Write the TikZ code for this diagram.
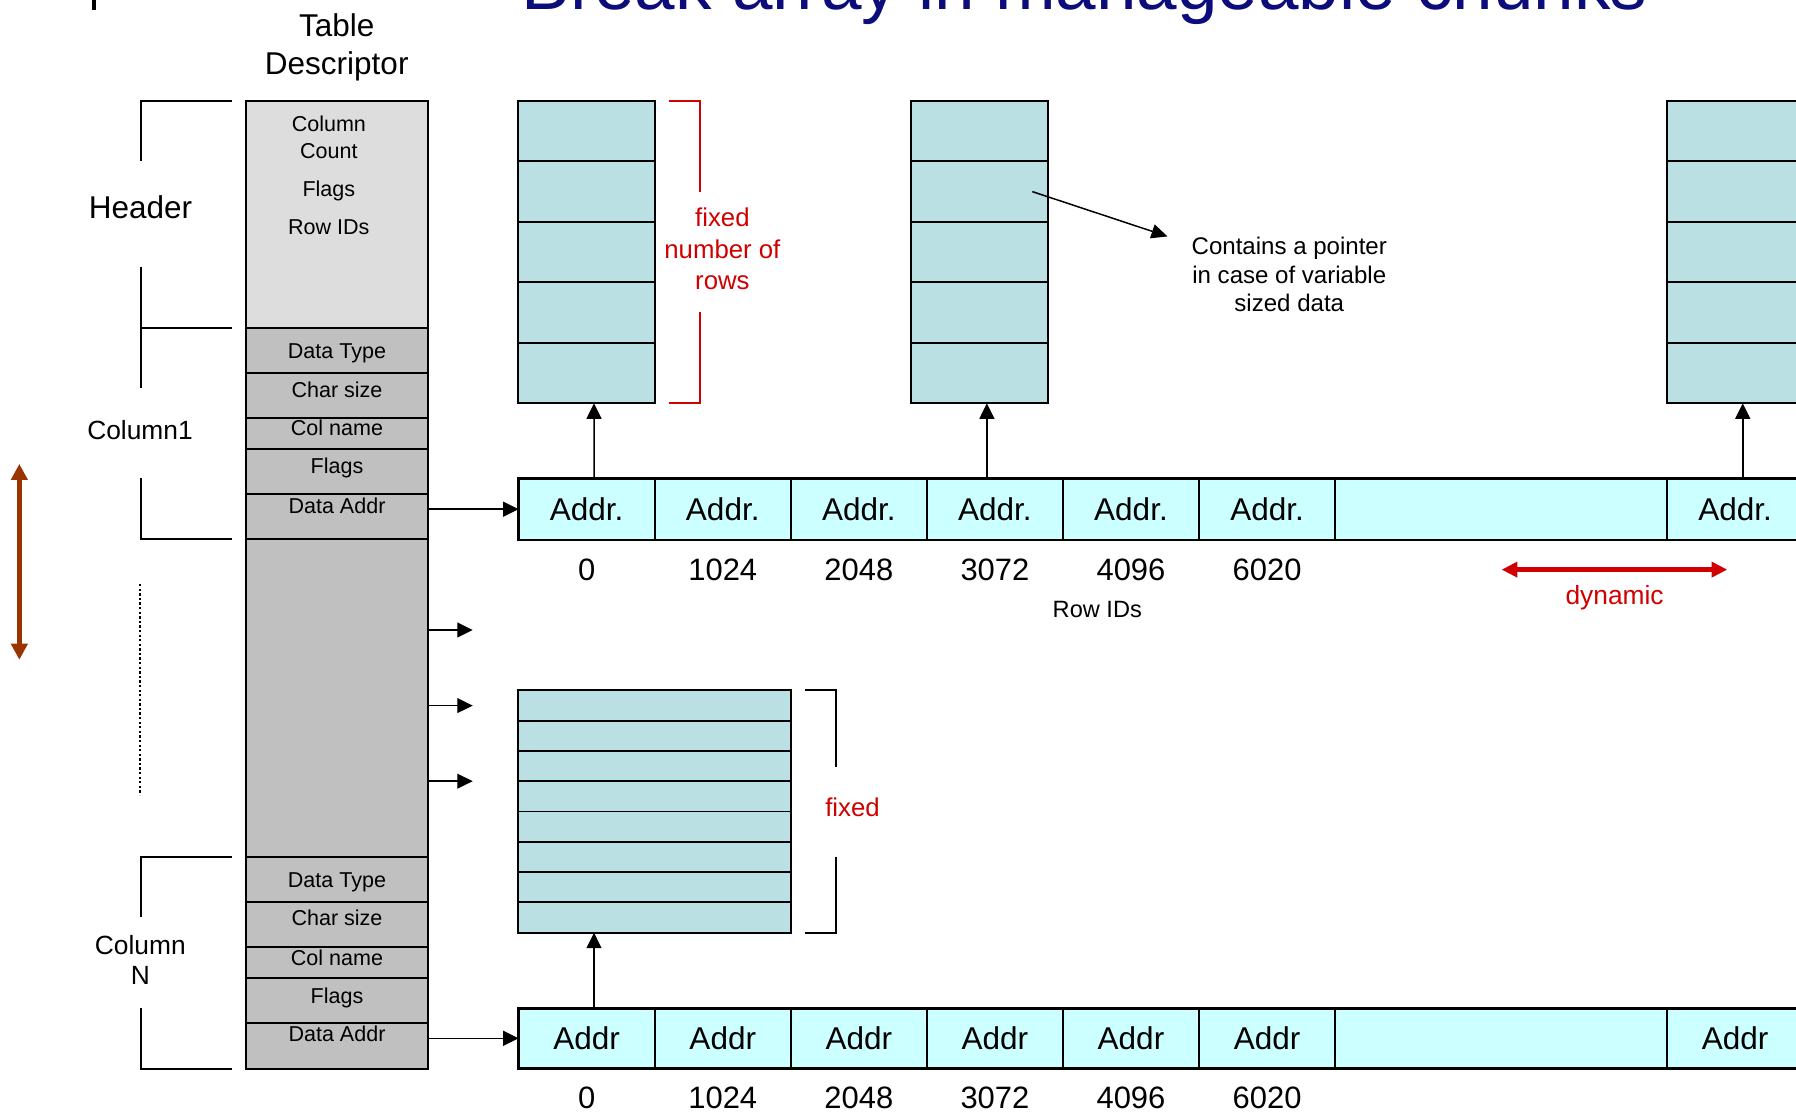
\documentclass[tikz,border=0pt]{standalone}
\usepackage{fontspec}
\setmainfont{Liberation Sans}
\usetikzlibrary{arrows.meta}

\definecolor{titleblue}{RGB}{12,12,122}
\definecolor{rowfill}{RGB}{187,224,227}
\definecolor{addrfill}{RGB}{204,255,255}
\definecolor{hdrfill}{RGB}{221,221,221}
\definecolor{colfill}{RGB}{192,192,192}
\definecolor{notered}{RGB}{208,0,0}
\definecolor{rustbrown}{RGB}{153,51,0}

\newcommand\fsz[2]{\fontsize{#1}{#2}\selectfont}

\begin{document}
\begin{tikzpicture}[x=1pt,y=-1pt,
  cellbox/.style={draw=black, line width=1.6pt, inner sep=0pt, outer sep=0pt},
  tdcell/.style={cellbox, minimum width=158.9pt},
  addr/.style={cellbox, fill=addrfill, font=\fsz{27.5}{33}},
  slot/.style={cellbox, fill=rowfill, minimum width=119.3pt, minimum height=52.84pt},
  thinslot/.style={cellbox, fill=rowfill, minimum width=238.3pt, minimum height=26.45pt},
  lbl/.style={inner sep=0pt, anchor=base},
  cellfont/.style={font=\fsz{18.8}{23.2}},
  link/.style={line width=1.3pt, -{Triangle[length=13.5pt,width=13pt]}},
  bracketline/.style={line width=1.6pt},
]
\useasboundingbox (0,0) rectangle (1568,972);
\clip (0,0) rectangle (1568,972);

% heading
\node[lbl, anchor=base west, text=titleblue, font=\fsz{63.6}{70}] (title) at (455.2,8.5) {Break array in manageable chunks};
\draw[line width=4pt] (82,-2) -- (82,8.5);

% ---------- table descriptor ----------
\node[inner sep=0pt, align=center, font=\fsz{27.5}{32.6}] (tdtitle) at (294,41.2) {Table\\Descriptor};

\node[tdcell, fill=hdrfill, minimum height=198.2pt] (hdr) at (293.95,187) {};
\node[tdcell, fill=colfill, minimum height=39.3pt] (dt1) at (293.95,305.75) {};
\node[tdcell, fill=colfill, minimum height=39.8pt] (cs1) at (293.95,345.3) {};
\node[tdcell, fill=colfill, minimum height=26.5pt] (cn1) at (293.95,378.45) {};
\node[tdcell, fill=colfill, minimum height=39.6pt] (fl1) at (293.95,411.5) {};
\node[tdcell, fill=colfill, minimum height=39.5pt] (da1) at (293.95,451.05) {};
\node[tdcell, fill=colfill, minimum height=277.2pt] (gap) at (293.95,609.4) {};
\node[tdcell, fill=colfill, minimum height=39.5pt] (dt2) at (293.95,767.75) {};
\node[tdcell, fill=colfill, minimum height=39.5pt] (cs2) at (293.95,807.25) {};
\node[tdcell, fill=colfill, minimum height=26.6pt] (cn2) at (293.95,840.3) {};
\node[tdcell, fill=colfill, minimum height=39.6pt] (fl2) at (293.95,873.4) {};
\node[tdcell, fill=colfill, minimum height=39.8pt] (da2) at (293.95,913.1) {};

% header entries
\node[inner sep=0pt, align=center, cellfont] (t-cc) at (287.1,119.75) {Column\\Count};
\node[lbl, cellfont] (t-hf) at (287.1,171.7) {Flags};
\node[lbl, cellfont] (t-ri) at (287.1,204.6) {Row IDs};

% column entries
\node[lbl, cellfont] (t-dt1) at (294.2,312.8) {Data Type};
\node[lbl, cellfont] (t-cs1) at (294.2,346.9) {Char size};
\node[lbl, cellfont] (t-cn1) at (294.2,379.8) {Col name};
\node[lbl, cellfont] (t-fl1) at (294.2,413.8) {Flags};
\node[lbl, cellfont] (t-da1) at (294.2,448.2) {Data Addr};
\node[lbl, cellfont] (t-dt2) at (294.2,774.7) {Data Type};
\node[lbl, cellfont] (t-cs2) at (294.2,808.4) {Char size};
\node[lbl, cellfont] (t-cn2) at (294.2,842.8) {Col name};
\node[lbl, cellfont] (t-fl2) at (294.2,876) {Flags};
\node[lbl, cellfont] (t-da2) at (294.2,909.7) {Data Addr};

% side labels and brackets
\node[lbl, font=\fsz{27.5}{33}] (lhdr) at (122.7,190.6) {Header};
\node[lbl, font=\fsz{23}{27}] (lcol1) at (122.2,383.6) {Column1};
\node[inner sep=0pt, align=center, font=\fsz{23}{26.8}] (lcoln) at (122.5,838.2) {Column\\N};

\draw[bracketline] (202.3,87.9) -- (122.8,87.9) -- (122.8,140.6);
\draw[bracketline] (122.8,232.8) -- (122.8,338.5);
\draw[bracketline] (122.8,286.1) -- (202.3,286.1);
\draw[bracketline] (122.8,417.3) -- (122.8,470.8) -- (202.3,470.8);
\draw[line width=1.8pt, dash pattern=on 2pt off 2pt] (122.5,510) -- (122.5,694);
\draw[bracketline] (202.3,748) -- (122.8,748) -- (122.8,800.9);
\draw[bracketline] (122.8,879.8) -- (122.8,933) -- (202.3,933);

\draw[line width=4pt, rustbrown, {Triangle[length=14pt,width=14pt]}-{Triangle[length=14pt,width=14pt]}] (16.9,405) -- (16.9,576);

% ---------- first column: address array ----------
\foreach \i/\x in {1/512.2,2/631,3/749.8,4/868.6,5/987.4,6/1106.2}
  \node[addr, minimum width=118.8pt, minimum height=53.9pt] (a\i) at (\x,444.55) {Addr.};
\node[addr, minimum width=289.9pt, minimum height=53.9pt] (a7) at (1310.55,444.55) {};
\node[addr, minimum width=118.8pt, minimum height=53.9pt] (a8) at (1514.9,444.55) {Addr.};
\draw[line width=2.2pt] (a1.north west) rectangle (a8.south east);

\foreach \i/\x/\v in {1/512.2/0,2/631/1024,3/749.8/2048,4/868.6/3072,5/987.4/4096,6/1106.2/6020}
  \node[lbl, font=\fsz{27}{32}] (n\i) at (\x,506.5) {\v};
\node[lbl, font=\fsz{20.6}{24}] (rowids) at (958,539) {Row IDs};

% data chunks of the first column
\foreach \r/\y in {1/114.32,2/167.16,3/220.0,4/272.84,5/325.68} {
  \node[slot] (A\r) at (512,\y) {};
  \node[slot] (B\r) at (855.35,\y) {};
  \node[slot] (C\r) at (1515.15,\y) {};
}
\draw[link] ([xshift=6.4pt]a1.north) -- ([xshift=6.6pt]A5.south);
\draw[link] ([xshift=-7pt]a4.north) -- ([xshift=6.25pt]B5.south);
\draw[link] ([xshift=6.6pt]a8.north) -- ([xshift=6.35pt]C5.south);

% fixed number of rows
\draw[bracketline, notered] (584.1,87.9) -- (611,87.9) -- (611,167.3);
\draw[bracketline, notered] (611,272.1) -- (611,352.1) -- (584.1,352.1);
\node[inner sep=0pt, align=center, text=notered, font=\fsz{22.5}{27.65}] (fixnote) at (630.7,217.3) {fixed\\number of\\rows};

% pointer note
\coordinate (ptrstart) at (901.3,167.3);
\coordinate (ptrend) at (1019.3,206.4);
\draw[line width=1.3pt, -{Triangle[length=14pt,width=12.5pt]}] (ptrstart) -- (ptrend);
\node[inner sep=0pt, align=center, font=\fsz{21}{24.6}] (note) at (1125.6,239.6) {Contains a pointer\\in case of variable\\sized data};

% dynamic growth
\draw[line width=4.2pt, notered, {Triangle[length=13.7pt,width=13pt]}-{Triangle[length=13.7pt,width=13pt]}] (1311,497.3) -- (1508,497.3);
\node[lbl, text=notered, font=\fsz{23}{27}] (dyn) at (1409.6,527.6) {dynamic};

% ---------- column N: address array ----------
\foreach \i/\x in {1/512.2,2/631,3/749.8,4/868.6,5/987.4,6/1106.2}
  \node[addr, minimum width=118.8pt, minimum height=52.4pt] (b\i) at (\x,906.5) {Addr};
\node[addr, minimum width=289.9pt, minimum height=52.4pt] (b7) at (1310.55,906.5) {};
\node[addr, minimum width=118.8pt, minimum height=52.4pt] (b8) at (1514.9,906.5) {Addr};
\draw[line width=2.2pt] (b1.north west) rectangle (b8.south east);

\foreach \i/\x/\v in {1/512.2/0,2/631/1024,3/749.8/2048,4/868.6/3072,5/987.4/4096,6/1106.2/6020}
  \node[lbl, font=\fsz{27}{32}] (m\i) at (\x,967.8) {\v};

% data chunk of column N
\foreach \r/\y in {1/615.9,2/642.35,3/668.8,4/695.25,5/721.7,6/748.15,7/774.6,8/801.05}
  \node[thinslot] (D\r) at (571.15,\y) {};
\draw[link] ([xshift=6.4pt]b1.north) -- ([xshift=-52.55pt]D8.south);

\draw[bracketline] (702.8,602.7) -- (729.9,602.7) -- (729.9,669.4);
\draw[bracketline] (729.9,747.9) -- (729.9,814.3) -- (702.8,814.3);
\node[lbl, text=notered, font=\fsz{22.5}{27}] (fixlow) at (744.3,713) {fixed};

% ---------- descriptor to data ----------
\draw[link] (da1.east |- a1.west) -- (a1.west);
\draw[link] (da2.east |- b1.west) -- (b1.west);
\coordinate (g1) at (412.7,550);
\coordinate (g2) at (412.7,616);
\coordinate (g3) at (412.7,682);
\draw[link] (gap.east |- g1) -- (g1);
\draw[link] (gap.east |- g2) -- (g2);
\draw[link] (gap.east |- g3) -- (g3);
\end{tikzpicture}
\end{document}
